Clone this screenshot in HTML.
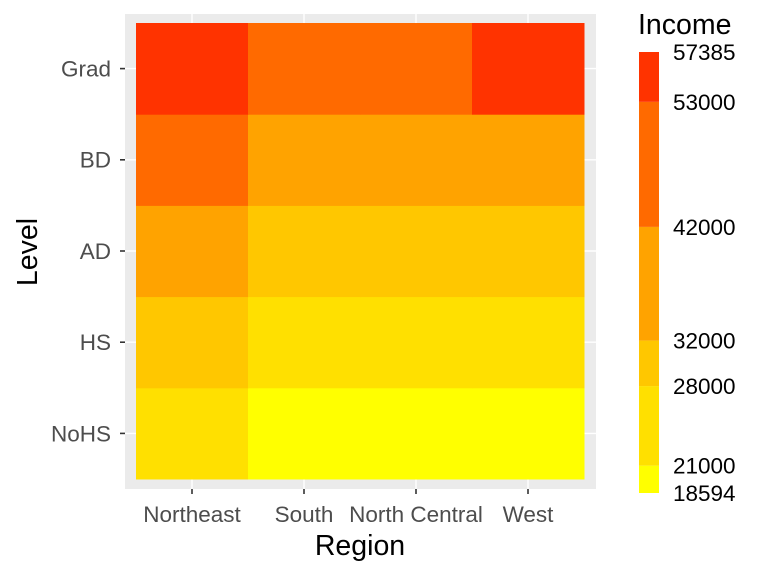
<!DOCTYPE html>
<html><head><meta charset="utf-8"><style>
body{margin:0;background:#fff;font-family:"Liberation Sans",sans-serif}
svg text{font-family:"Liberation Sans",sans-serif}
</style></head><body>
<svg id="c" width="768" height="576"></svg>
<script>
const regions=["Northeast","South","North Central","West"];
const levels=["NoHS","HS","AD","BD","Grad"];
// income[level][region]
const incomeNoHS=[24000,19500,19500,19500];
const incomeHS=[30000,25000,25000,25000];
const incomeAD=[38000,30000,30000,30000];
const incomeBD=[47000,38000,38000,38000];
const incomeGrad=[56000,48000,48000,56000];
const income=[incomeNoHS,incomeHS,incomeAD,incomeBD,incomeGrad];
const breaks=[18594,21000,28000,32000,42000,53000,57385];
const binColors=["#FFFF00","#FFE000","#FFC700","#FFA300","#FF6A00","#FF3300"];
const NS="http://www.w3.org/2000/svg";
const svg=document.getElementById('c');
function mk(t,a,p){const e=document.createElementNS(NS,t);for(const k in a)e.setAttribute(k,a[k]);(p||svg).appendChild(e);return e;}
function colorFor(v){for(let i=0;i<binColors.length;i++){if(v<=breaks[i+1])return binColors[i];}return binColors[binColors.length-1];}
const px0=125,px1=596,py0=14,py1=489;
const x=i=>136+112*i; const y=j=>479-91.2*(j+1);
const panel=mk('rect',{x:px0,y:py0,width:px1-px0,height:py1-py0,fill:'#EBEBEB'});

regions.forEach((r,i)=>{mk('line',{x1:x(i)+56,x2:x(i)+56,y1:py0,y2:py1,stroke:'#fff','stroke-width':1.4});});
levels.forEach((l,j)=>{mk('line',{x1:px0,x2:px1,y1:y(j)+45.6,y2:y(j)+45.6,stroke:'#fff','stroke-width':1.4});});
levels.forEach((l,j)=>regions.forEach((r,i)=>{
 const t=mk('rect',{x:x(i),y:y(j),width:112.5,height:91.7,fill:colorFor(income[j][i])});
 
 
}));
regions.forEach((r,i)=>{
 mk('line',{x1:x(i)+56,x2:x(i)+56,y1:py1,y2:py1+5,stroke:'#333','stroke-width':1.6});
 const t=mk('text',{x:x(i)+56,y:522,'text-anchor':'middle','font-size':22.5,fill:'#4D4D4D'});t.textContent=r;
 
});
levels.forEach((l,j)=>{
 mk('line',{x1:px0-5,x2:px0,y1:y(j)+45.6,y2:y(j)+45.6,stroke:'#333','stroke-width':1.6});
 const t=mk('text',{x:px0-14,y:y(j)+53.5,'text-anchor':'end','font-size':22.5,fill:'#4D4D4D'});t.textContent=l;
 
});
let t=mk('text',{x:360,y:555,'text-anchor':'middle','font-size':28.5,fill:'#000'});t.textContent='Region';

t=mk('text',{x:0,y:0,'text-anchor':'middle','font-size':28.5,fill:'#000',transform:'translate(37,252) rotate(-90)'});t.textContent='Level';

t=mk('text',{x:638,y:34,'font-size':28.5,fill:'#000'});t.textContent='Income';

const ly0=493,ly1=52;
const ly=v=>ly0-(v-breaks[0])/(breaks[breaks.length-1]-breaks[0])*(ly0-ly1);
binColors.forEach((c,i)=>{
 const r=mk('rect',{x:639,y:ly(breaks[i+1]),width:20,height:ly(breaks[i])-ly(breaks[i+1]),fill:c});
 
});
breaks.forEach(b=>{
 const tt=mk('text',{x:673,y:ly(b)+8,'font-size':22.5,fill:'#000'});tt.textContent=b;
 
});
</script>
</body></html>
